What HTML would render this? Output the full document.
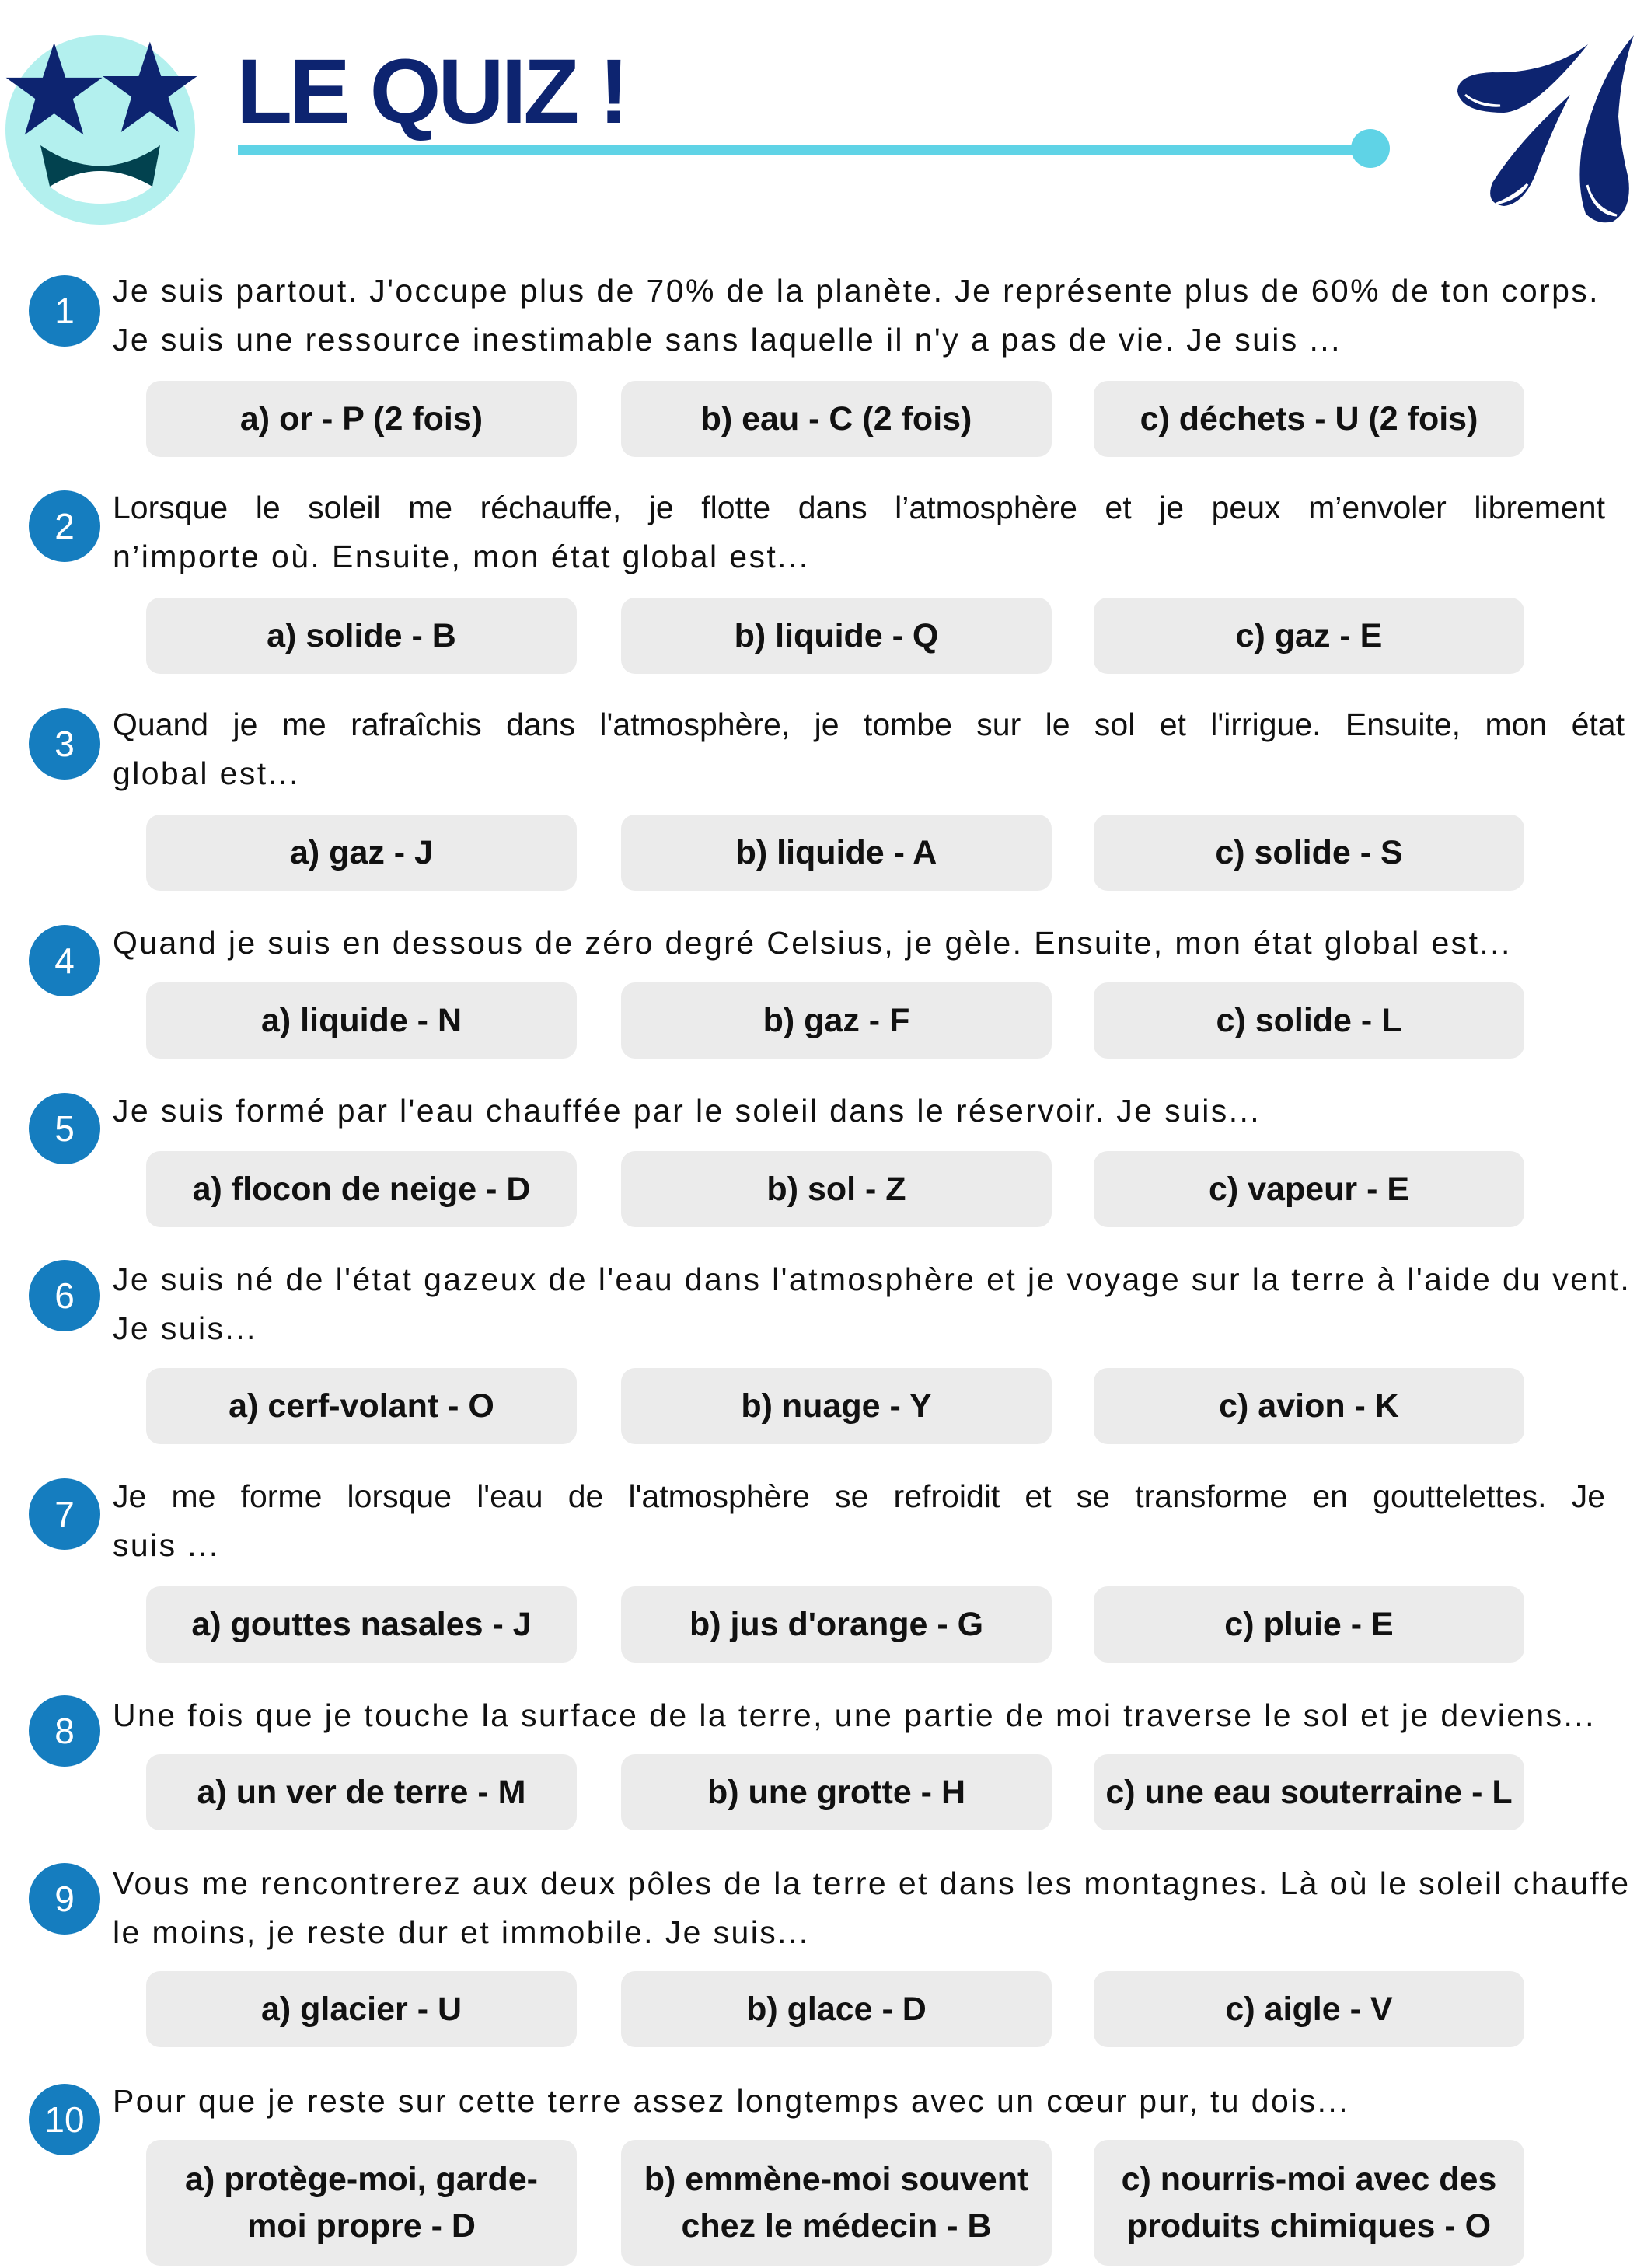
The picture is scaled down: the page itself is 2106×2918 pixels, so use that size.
<!DOCTYPE html>
<html><head><meta charset="utf-8"><style>
body{margin:0;background:#fff;}
#p{position:relative;width:2106px;height:2918px;overflow:hidden;font-family:"Liberation Sans",sans-serif;color:#111;}
.t{position:absolute;left:145px;width:1920px;font-size:41px;line-height:63px;white-space:nowrap;letter-spacing:2.4px;}
.j{text-align:justify;text-align-last:justify;letter-spacing:0;}
.c{position:absolute;left:37px;width:92px;height:92px;border-radius:50%;background:#157dbf;color:#fff;font-size:46px;line-height:92px;text-align:center;}
.b{position:absolute;width:554px;height:98px;border-radius:18px;background:#ebebeb;font-weight:bold;font-size:43px;display:flex;align-items:center;justify-content:center;text-align:center;line-height:60px;}
</style></head><body><div id="p">
<svg style="position:absolute;left:0;top:0" width="2106" height="300">
<circle cx="129" cy="167" r="122" fill="#b3f0ee"/>
<path d="M52 187 Q129 240 206 187 L196 240 Q129 200 64 240 Z" fill="#02424f"/>
<path d="M64 240 Q129 200 196 240 Q170 262 129 262 Q90 262 64 240Z" fill="#fff"/>
<polygon points="72,55 86,98 131,98 95,124 108,168 72,142 36,168 49,124 13,98 58,98" fill="#0d2470" transform="translate(-6,-3) scale(1.05)"/>
<polygon points="195,55 209,98 254,98 218,124 231,168 195,142 159,168 172,124 136,98 181,98" fill="#0d2470" transform="translate(-8,-3) scale(1.03)"/>
<text x="304" y="158" font-family="Liberation Sans" font-weight="bold" font-size="118" fill="#0d2470" letter-spacing="-4">LE QUIZ !</text>
<rect x="306" y="187" width="1460" height="12" fill="#5fd3e6"/>
<circle cx="1763" cy="191" r="25" fill="#5fd3e6"/>
<path d="M2043 57 Q1990 95 1920 93 Q1875 95 1875 118 Q1880 145 1935 145 Q1975 142 2043 57Z" fill="#0d2470"/>
<path d="M2020 122 Q1955 180 1920 235 Q1910 262 1935 265 Q1960 262 1975 225 Q1995 170 2020 122Z" fill="#0d2470"/>
<path d="M2102 45 Q2055 100 2035 190 Q2028 240 2040 275 Q2055 290 2075 285 Q2100 270 2095 230 Q2085 190 2082 150 Q2085 95 2102 45Z" fill="#0d2470"/>
<path d="M1885 122 Q1900 135 1930 136 Q1905 138 1885 122Z" fill="#fff" stroke="#fff" stroke-width="3"/>
<path d="M1925 262 Q1945 255 1965 237 Q1955 255 1925 262Z" fill="#fff" stroke="#fff" stroke-width="3"/>
<path d="M2042 238 Q2050 268 2080 277 Q2052 275 2042 238Z" fill="#fff" stroke="#fff" stroke-width="3"/>
</svg>

<div class="c" style="top:354px">1</div>
<div class="t" style="top:343px">Je suis partout. J'occupe plus de 70% de la planète. Je représente plus de 60% de ton corps.<br>Je suis une ressource inestimable sans laquelle il n'y a pas de vie. Je suis ...</div>
<div class="b" style="left:188px;top:490px">a) or - P (2 fois)</div>
<div class="b" style="left:799px;top:490px">b) eau - C (2 fois)</div>
<div class="b" style="left:1407px;top:490px">c) déchets - U (2 fois)</div>

<div class="c" style="top:631px">2</div>
<div class="t j" style="top:622px">Lorsque le soleil me réchauffe, je flotte dans l’atmosphère et je peux m’envoler librement</div>
<div class="t" style="top:685px">n’importe où. Ensuite, mon état global est...</div>
<div class="b" style="left:188px;top:769px">a) solide - B</div>
<div class="b" style="left:799px;top:769px">b) liquide - Q</div>
<div class="b" style="left:1407px;top:769px">c) gaz - E</div>

<div class="c" style="top:911px">3</div>
<div class="t j" style="top:901px;width:1945px">Quand je me rafraîchis dans l'atmosphère, je tombe sur le sol et l'irrigue. Ensuite, mon état</div>
<div class="t" style="top:964px">global est...</div>
<div class="b" style="left:188px;top:1048px">a) gaz - J</div>
<div class="b" style="left:799px;top:1048px">b) liquide - A</div>
<div class="b" style="left:1407px;top:1048px">c) solide - S</div>

<div class="c" style="top:1190px">4</div>
<div class="t" style="top:1182px">Quand je suis en dessous de zéro degré Celsius, je gèle. Ensuite, mon état global est...</div>
<div class="b" style="left:188px;top:1264px">a) liquide - N</div>
<div class="b" style="left:799px;top:1264px">b) gaz - F</div>
<div class="b" style="left:1407px;top:1264px">c) solide - L</div>

<div class="c" style="top:1406px">5</div>
<div class="t" style="top:1398px">Je suis formé par l'eau chauffée par le soleil dans le réservoir. Je suis...</div>
<div class="b" style="left:188px;top:1481px">a) flocon de neige - D</div>
<div class="b" style="left:799px;top:1481px">b) sol - Z</div>
<div class="b" style="left:1407px;top:1481px">c) vapeur - E</div>

<div class="c" style="top:1621px">6</div>
<div class="t" style="top:1615px">Je suis né de l'état gazeux de l'eau dans l'atmosphère et je voyage sur la terre à l'aide du vent.<br>Je suis...</div>
<div class="b" style="left:188px;top:1760px">a) cerf-volant - O</div>
<div class="b" style="left:799px;top:1760px">b) nuage - Y</div>
<div class="b" style="left:1407px;top:1760px">c) avion - K</div>

<div class="c" style="top:1902px">7</div>
<div class="t j" style="top:1894px">Je me forme lorsque l'eau de l'atmosphère se refroidit et se transforme en gouttelettes. Je</div>
<div class="t" style="top:1957px">suis ...</div>
<div class="b" style="left:188px;top:2041px">a) gouttes nasales - J</div>
<div class="b" style="left:799px;top:2041px">b) jus d'orange - G</div>
<div class="b" style="left:1407px;top:2041px">c) pluie - E</div>

<div class="c" style="top:2181px">8</div>
<div class="t" style="top:2176px">Une fois que je touche la surface de la terre, une partie de moi traverse le sol et je deviens...</div>
<div class="b" style="left:188px;top:2257px">a) un ver de terre - M</div>
<div class="b" style="left:799px;top:2257px">b) une grotte - H</div>
<div class="b" style="left:1407px;top:2257px">c) une eau souterraine - L</div>

<div class="c" style="top:2397px">9</div>
<div class="t" style="top:2392px">Vous me rencontrerez aux deux pôles de la terre et dans les montagnes. Là où le soleil chauffe<br>le moins, je reste dur et immobile. Je suis...</div>
<div class="b" style="left:188px;top:2536px">a) glacier - U</div>
<div class="b" style="left:799px;top:2536px">b) glace - D</div>
<div class="b" style="left:1407px;top:2536px">c) aigle - V</div>

<div class="c" style="top:2681px">10</div>
<div class="t" style="top:2672px">Pour que je reste sur cette terre assez longtemps avec un cœur pur, tu dois...</div>
<div class="b" style="left:188px;top:2753px;height:162px">a) protège-moi, garde-<br>moi propre - D</div>
<div class="b" style="left:799px;top:2753px;height:162px">b) emmène-moi souvent<br>chez le médecin - B</div>
<div class="b" style="left:1407px;top:2753px;height:162px">c) nourris-moi avec des<br>produits chimiques - O</div>
</div></body></html>
